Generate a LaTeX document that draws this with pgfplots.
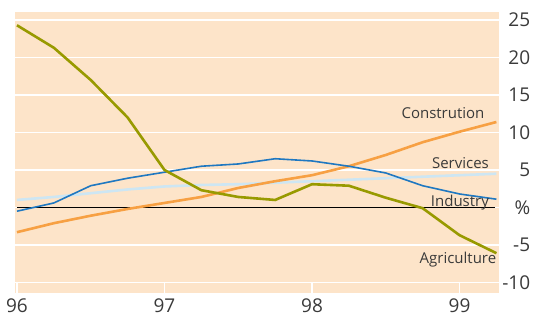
\documentclass[border=0pt]{standalone}
\usepackage{pgfplots}
\pgfplotsset{compat=1.18}
\usepackage{fontspec}
\setmainfont{Open Sans}
\definecolor{panel}{HTML}{FDE4C9}
\definecolor{agri}{HTML}{989A00}
\definecolor{constr}{HTML}{F7A043}
\definecolor{indus}{HTML}{1F78C1}
\definecolor{serv}{HTML}{CDE6F3}
\definecolor{textgray}{HTML}{3A3A3A}
\begin{document}
\begin{tikzpicture}
\begin{axis}[
 scale only axis, width=484pt, height=281pt,
 xmin=95.99, xmax=99.27, ymin=-11.4, ymax=26.07,
 axis background/.style={fill=panel},
 axis line style={draw=none},
 xtick={96,97,98,99}, xticklabels={96,97,98,99},
 ytick={-10,-5,0,5,10,15,20,25}, yticklabels={-10,-5,\%,5,10,15,20,25},
 yticklabel pos=right,
 major tick length=0pt,
 ymajorgrids, major grid style={white, line width=1.6pt},
 tick label style={font=\fontsize{19}{19}\selectfont, text=textgray},
 yticklabel style={anchor=east, inner sep=0pt, xshift=31pt},
 xticklabel style={inner sep=0pt, yshift=-6pt},
 clip=false,
 /pgf/number format/assume math mode=true,
]
\draw[white, line width=1.6pt] (axis cs:96,-10) -- (axis cs:96,-11.4);
\draw[white, line width=1.6pt] (axis cs:97,-10) -- (axis cs:97,-11.4);
\draw[white, line width=1.6pt] (axis cs:98,-10) -- (axis cs:98,-11.4);
\draw[white, line width=1.6pt] (axis cs:99,-10) -- (axis cs:99,-11.4);
\draw[black, line width=0.7pt] (axis cs:96,0) -- (axis cs:99.24,0);
\addplot[serv, line width=2.6pt] coordinates {
(96,1.0) (96.25,1.4) (96.5,1.9) (96.75,2.4) (97,2.8) (97.25,3.0) (97.5,3.1)
(97.75,3.3) (98,3.5) (98.25,3.7) (98.5,3.9) (98.75,4.1) (99,4.3) (99.25,4.5)};
\addplot[constr, line width=2.6pt] coordinates {
(96,-3.3) (96.25,-2.1) (96.5,-1.1) (96.75,-0.2) (97,0.6) (97.25,1.4) (97.5,2.6)
(97.75,3.5) (98,4.3) (98.25,5.5) (98.5,7.0) (98.75,8.7) (99,10.1) (99.25,11.4)};
\addplot[indus, line width=1.6pt] coordinates {
(96,-0.5) (96.25,0.6) (96.5,2.9) (96.75,3.9) (97,4.7) (97.25,5.5) (97.5,5.8)
(97.75,6.5) (98,6.2) (98.25,5.5) (98.5,4.6) (98.75,2.9) (99,1.8) (99.25,1.1)};
\addplot[agri, line width=2.6pt] coordinates {
(96,24.3) (96.25,21.3) (96.5,17.0) (96.75,12.0) (97,5.0) (97.25,2.3) (97.5,1.4)
(97.75,1.0) (98,3.1) (98.25,2.9) (98.5,1.3) (98.75,-0.1) (99,-3.7) (99.25,-6.1)};
\node[anchor=east, inner sep=0pt, text=textgray, font=\fontsize{15}{15}\selectfont] at (axis cs:99.17,12.6) {Constrution};
\node[anchor=east, inner sep=0pt, text=textgray, font=\fontsize{15}{15}\selectfont] at (axis cs:99.2,5.93) {Services};
\node[anchor=east, inner sep=0pt, text=textgray, font=\fontsize{15}{15}\selectfont] at (axis cs:99.2,0.6) {Industry};
\node[anchor=east, inner sep=0pt, text=textgray, font=\fontsize{15}{15}\selectfont] at (axis cs:99.25,-6.9) {Agriculture};
\coordinate (bl) at (axis cs:95.885,-14.73);
\coordinate (tr) at (axis cs:99.498,27.67);
\end{axis}
\pgfresetboundingbox
\path (bl) rectangle (tr);
\end{tikzpicture}
\end{document}
